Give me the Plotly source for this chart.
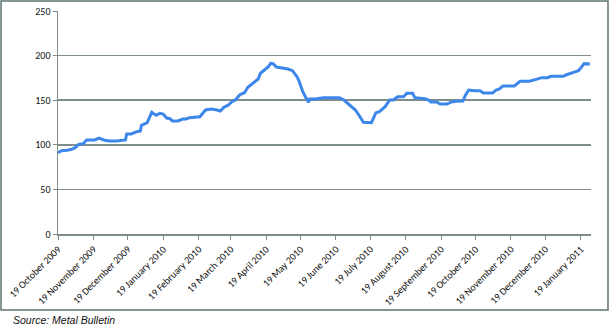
import pandas as pd
import plotly.graph_objects as go

# days since 19 October 2009, and price values
day_offsets = [0, 3, 8, 12, 15, 18, 22, 25, 32, 36, 40, 45, 51, 56, 59, 60, 64, 69, 72, 73,
               78, 80, 82, 84, 86, 89, 92, 95, 98, 100, 105, 109, 112, 115, 124, 129, 134,
               139, 142, 145, 149, 152, 155, 159, 163, 166, 171, 175, 177, 181, 184, 186,
               188, 191, 197, 201, 205, 209, 211, 214, 217, 219, 220, 225, 232, 239, 246,
               250, 255, 260, 264, 267, 274, 276, 278, 281, 286, 290, 293, 297, 302, 305,
               310, 312, 316, 321, 324, 326, 331, 334, 340, 344, 348, 354, 356, 359, 364,
               369, 372, 380, 383, 386, 389, 399, 404, 412, 418, 423, 428, 431, 442, 444,
               450, 455, 458, 460, 465]
values = [91.1, 93.4, 93.8, 95.0, 96.8, 100.5, 101.2, 105.4, 105.4, 107.6, 105.4, 104.3,
          104.3, 105.4, 105.4, 112.1, 112.1, 114.7, 115.5, 121.9, 124.8, 130.8, 136.4,
          134.5, 133.1, 135.3, 134.5, 130.0, 129.3, 126.7, 126.7, 128.9, 128.9, 130.4,
          131.5, 139.0, 140.1, 139.0, 137.9, 142.0, 144.6, 148.3, 150.2, 156.2, 158.4,
          164.5, 169.6, 173.8, 180.2, 183.9, 187.6, 191.4, 191.0, 187.2, 186.1, 185.0,
          183.1, 176.3, 170.7, 159.5, 152.1, 147.6, 151.3, 151.3, 152.8, 152.5, 152.8,
          150.2, 144.6, 139.0, 131.5, 125.2, 124.8, 129.7, 136.0, 137.1, 142.7, 150.2,
          150.2, 153.9, 153.9, 157.7, 157.7, 152.8, 152.5, 151.7, 150.2, 148.0, 148.0,
          145.7, 145.7, 148.0, 148.8, 149.1, 155.0, 161.4, 160.7, 160.7, 158.1, 158.1,
          161.4, 162.6, 166.0, 166.0, 171.2, 171.2, 173.4, 175.3, 175.3, 176.8, 176.8,
          178.3, 180.9, 183.1, 187.6, 191.0, 190.6]

tick_dates = ["2009-10-19", "2009-11-19", "2009-12-19", "2010-01-19", "2010-02-19",
              "2010-03-19", "2010-04-19", "2010-05-19", "2010-06-19", "2010-07-19",
              "2010-08-19", "2010-09-19", "2010-10-19", "2010-11-19", "2010-12-19",
              "2011-01-19"]
tick_labels = ["19 October 2009", "19 November 2009", "19 December 2009", "19 January 2010",
               "19 February 2010", "19 March 2010", "19 April 2010", "19 May 2010",
               "19 June 2010", "19 July 2010", "19 August 2010", "19 September 2010",
               "19 October 2010", "19 November 2010", "19 December 2010", "19 January 2011"]
y_ticks = [0, 50, 100, 150, 200, 250]

start = pd.Timestamp("2009-10-19")
dates = [start + pd.Timedelta(days=d) for d in day_offsets]

fig = go.Figure()
fig.add_trace(go.Scatter(x=dates, y=values, mode="lines",
                         line=dict(color="#3d87ea", width=3), showlegend=False,
                         hoverinfo="skip"))

axis_col = "#7f8c8c"
FONT = "Carlito, Liberation Sans, Arial, sans-serif"
fig.update_layout(
    width=610, height=326,
    margin=dict(l=58, r=19, t=11, b=92, autoexpand=False),
    paper_bgcolor="white", plot_bgcolor="white",
    font=dict(family=FONT, size=10, color="#000000"),
    xaxis=dict(type="date", range=["2009-10-19", "2011-01-28"],
               tickvals=tick_dates, ticktext=tick_labels, tickangle=-45,
               showgrid=False, showline=True, linecolor=axis_col, linewidth=1.5,
               ticks="outside", ticklen=4, tickcolor=axis_col,
               tickfont=dict(size=10, family=FONT, color="#111111"), automargin=False,
               zeroline=False),
    yaxis=dict(range=[0, 250], tickvals=y_ticks, showgrid=True, gridcolor=axis_col,
               gridwidth=1.5, showline=True, linecolor=axis_col, linewidth=1.5,
               ticks="outside", ticklen=4, tickcolor=axis_col, zeroline=False,
               tickfont=dict(size=10, family=FONT, color="#111111"), automargin=False),
    shapes=[dict(type="rect", xref="paper", yref="paper",
                 x0=-0.1069, x1=1.0319, y0=-0.3408, y1=1.0448,
                 line=dict(color="#5e7272", width=1.5), fillcolor="rgba(0,0,0,0)",
                 layer="below")],
    annotations=[dict(text="<i>Source: Metal Bulletin</i>", xref="paper", yref="paper",
                      x=(11 - 58) / 533, y=(234 - 320) / 223, xanchor="left",
                      yanchor="middle", showarrow=False,
                      font=dict(size=10.5, family="Liberation Sans, Arial, sans-serif",
                                color="#111111"))],
)

fig.write_html("out.html", config={"displayModeBar": False, "staticPlot": True},
               post_script="document.body.style.margin='0';document.body.style.overflow='hidden';")
